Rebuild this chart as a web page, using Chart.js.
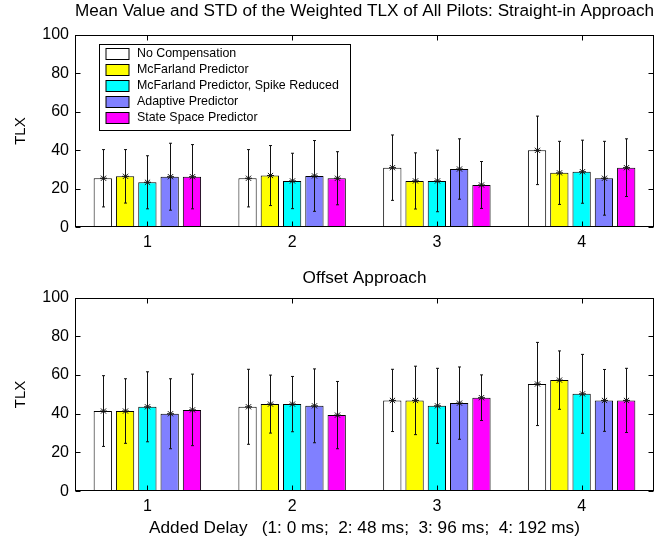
<!DOCTYPE html>
<html><head><meta charset="utf-8">
<script src="https://cdn.jsdelivr.net/npm/chart.js@4"></script>
<style>
html,body{margin:0;padding:0;background:#fff;}
#wrap{position:relative;width:661px;height:540px;background:#fff;}
canvas{position:absolute;left:0;}
</style></head><body>
<div id="wrap">
<canvas id="c1" width="661" height="260" style="top:0"></canvas>
<canvas id="c2" width="661" height="280" style="top:260px"></canvas>
</div>
<script>
// ---- data ----
const categories = ['1', '2', '3', '4'];
const seriesNames = ['No Compensation', 'McFarland Predictor', 'McFarland Predictor, Spike Reduced', 'Adaptive Predictor', 'State Space Predictor'];
const seriesColors = ['#ffffff', '#ffff00', '#00ffff', '#8080ff', '#ff00ff'];
const yTicks = [0, 20, 40, 60, 80, 100];

// Straight-in approach: mean and STD per series over the 4 delays
const straightNoCompMean   = [25.5, 25.5, 31.0, 40.0];
const straightMcfMean      = [26.5, 26.9, 24.1, 28.3];
const straightSpikeMean    = [23.4, 24.1, 24.1, 28.9];
const straightAdaptMean    = [26.3, 26.7, 30.3, 25.5];
const straightStateMean    = [26.3, 25.5, 22.0, 31.0];
const straightNoCompStd    = [14.9, 14.9, 17.0, 17.8];
const straightMcfStd       = [13.9, 15.6, 14.6, 16.4];
const straightSpikeStd     = [13.8, 14.4, 16.0, 16.4];
const straightAdaptStd     = [17.4, 18.4, 15.7, 19.2];
const straightStateStd     = [16.7, 13.8, 12.2, 15.0];

// Offset approach
const offsetNoCompMean = [41.4, 43.6, 46.9, 55.4];
const offsetMcfMean    = [41.4, 45.0, 46.9, 57.4];
const offsetSpikeMean  = [43.6, 45.0, 44.1, 50.3];
const offsetAdaptMean  = [40.0, 44.1, 45.5, 46.9];
const offsetStateMean  = [42.0, 39.3, 48.3, 46.9];
const offsetNoCompStd  = [18.3, 19.4, 16.1, 21.5];
const offsetMcfStd     = [16.7, 15.0, 17.7, 15.1];
const offsetSpikeStd   = [18.1, 14.3, 19.4, 20.4];
const offsetAdaptStd   = [18.1, 19.1, 18.7, 16.0];
const offsetStateStd   = [18.5, 17.4, 11.8, 16.6];

const titleTop = 'Mean Value and STD of the Weighted TLX of All Pilots: Straight-in Approach';
const titleBottom = 'Offset Approach';
const yTitle = 'TLX';
const xTitle = 'Added Delay   (1: 0 ms;  2: 48 ms;  3: 96 ms;  4: 192 ms)';

// ---- rendering ----
const FONT = "'Liberation Sans', Arial, Helvetica, sans-serif";
const TICK_SIZE = 16;
const TITLE_SIZE = 17.2;

function makeDatasets(means, stds) {
  return means.map((m, i) => ({
    label: seriesNames[i],
    data: m,
    std: stds[i],
    backgroundColor: seriesColors[i],
    borderColor: '#000',
    borderWidth: 1,
    borderSkipped: false,
    categoryPercentage: 0.77,
    barPercentage: 0.82
  }));
}

const errStarPlugin = {
  id: 'errStar',
  afterDatasetsDraw(chart) {
    const ctx = chart.ctx, ys = chart.scales.y;
    chart.data.datasets.forEach((ds, i) => {
      const meta = chart.getDatasetMeta(i);
      meta.data.forEach((bar, j) => {
        const m = ds.data[j], s = ds.std[j];
        const x = Math.round(bar.x) + 0.5;
        const yT = ys.getPixelForValue(m + s), yB = ys.getPixelForValue(m - s), yM = ys.getPixelForValue(m);
        ctx.save();
        ctx.strokeStyle = '#111';
        ctx.lineWidth = 1;
        ctx.beginPath();
        ctx.moveTo(x, yT); ctx.lineTo(x, yB);
        ctx.moveTo(x - 1.5, yT); ctx.lineTo(x + 1.5, yT);
        ctx.moveTo(x - 1.5, yB); ctx.lineTo(x + 1.5, yB);
        const r = 3.5, d = 2.6;
        ctx.moveTo(x - r, yM); ctx.lineTo(x + r, yM);
        ctx.moveTo(x, yM - r); ctx.lineTo(x, yM + r);
        ctx.moveTo(x - d, yM - d); ctx.lineTo(x + d, yM + d);
        ctx.moveTo(x - d, yM + d); ctx.lineTo(x + d, yM - d);
        ctx.stroke();
        ctx.restore();
      });
    });
  }
};

const boxPlugin = {
  id: 'box',
  afterDraw(chart) {
    const ctx = chart.ctx, a = chart.chartArea, ys = chart.scales.y, xs = chart.scales.x;
    ctx.save();
    ctx.strokeStyle = '#000';
    ctx.lineWidth = 1;
    const L = Math.round(a.left) + 0.5, R = Math.round(a.right) - 0.5, T = Math.round(a.top) + 0.5, B = Math.round(a.bottom) - 0.5;
    ctx.strokeRect(L, T, R - L, B - T);
    ctx.beginPath();
    yTicks.forEach(v => {
      const y = Math.round(ys.getPixelForValue(v)) + 0.5;
      ctx.moveTo(L, y); ctx.lineTo(L + 5, y);
      ctx.moveTo(R, y); ctx.lineTo(R - 5, y);
    });
    categories.forEach((c, i) => {
      const x = Math.round(xs.getPixelForValue(i)) + 0.5;
      ctx.moveTo(x, B); ctx.lineTo(x, B - 5);
      ctx.moveTo(x, T); ctx.lineTo(x, T + 5);
    });
    ctx.stroke();
    ctx.restore();
  }
};

const legendPlugin = {
  id: 'boxLegend',
  afterDraw(chart, args, opts) {
    if (!opts || !opts.show) return;
    const ctx = chart.ctx, a = chart.chartArea;
    const x0 = Math.round(a.left) + 24.5, y0 = Math.round(a.top) + 9.5;
    const w = 251, h = 86;
    ctx.save();
    ctx.fillStyle = '#fff';
    ctx.fillRect(x0, y0, w, h);
    ctx.strokeStyle = '#000';
    ctx.lineWidth = 1;
    ctx.strokeRect(x0, y0, w, h);
    ctx.font = '12.4px ' + FONT;
    ctx.textBaseline = 'middle';
    chart.data.datasets.forEach((ds, i) => {
      const cy = y0 + 9.5 + i * 16;
      ctx.fillStyle = ds.backgroundColor;
      ctx.fillRect(x0 + 6.5, Math.round(cy - 6) + 0.5, 23, 11);
      ctx.strokeStyle = '#000';
      ctx.strokeRect(x0 + 6.5, Math.round(cy - 6) + 0.5, 23, 11);
      ctx.fillStyle = '#000';
      ctx.fillText(ds.label, x0 + 37.5, cy);
    });
    ctx.restore();
  }
};

function makeChart(id, means, stds, cfg) {
  return new Chart(document.getElementById(id), {
    type: 'bar',
    data: { labels: categories, datasets: makeDatasets(means, stds) },
    plugins: [errStarPlugin, boxPlugin, legendPlugin],
    options: {
      responsive: false,
      animation: false,
      devicePixelRatio: 1,
      layout: { padding: { left: 12, right: 7, top: 0, bottom: cfg.padBottom } },
      plugins: {
        legend: { display: false },
        tooltip: { enabled: false },
        title: {
          display: true, text: cfg.title, color: '#000', fullSize: false,
          font: { family: FONT, size: TITLE_SIZE, weight: 'normal' },
          padding: { top: cfg.titleTop, bottom: cfg.titleBottom }
        },
        boxLegend: { show: cfg.legend }
      },
      scales: {
        x: {
          grid: { display: false, drawTicks: false },
          border: { display: false },
          ticks: { color: '#000', font: { family: FONT, size: TICK_SIZE }, padding: 6, maxRotation: 0 },
          title: cfg.xTitle ? { display: true, text: cfg.xTitle, color: '#000', font: { family: FONT, size: TITLE_SIZE }, padding: 0 } : { display: false },
          afterFit(s) { s.height = cfg.xHeight; }
        },
        y: {
          min: 0, max: 100,
          grid: { display: false, drawTicks: false },
          border: { display: false },
          ticks: { color: '#000', font: { family: FONT, size: TICK_SIZE }, padding: 6, stepSize: 20 },
          title: { display: true, text: yTitle, color: '#000', font: { family: FONT, size: 15 }, padding: 0 },
          afterFit(s) { s.width = 63; }
        }
      }
    }
  });
}

makeChart('c1',
  [straightNoCompMean, straightMcfMean, straightSpikeMean, straightAdaptMean, straightStateMean],
  [straightNoCompStd, straightMcfStd, straightSpikeStd, straightAdaptStd, straightStateStd],
  { title: titleTop, titleTop: 0.7, titleBottom: 13.6, legend: true, xTitle: null, xHeight: 32.7, padBottom: 0 });

makeChart('c2',
  [offsetNoCompMean, offsetMcfMean, offsetSpikeMean, offsetAdaptMean, offsetStateMean],
  [offsetNoCompStd, offsetMcfStd, offsetSpikeStd, offsetAdaptStd, offsetStateStd],
  { title: titleBottom, titleTop: 7.7, titleBottom: 9.4, legend: false, xTitle: xTitle, xHeight: 47.2, padBottom: 1.7 });
</script>
</body></html>
